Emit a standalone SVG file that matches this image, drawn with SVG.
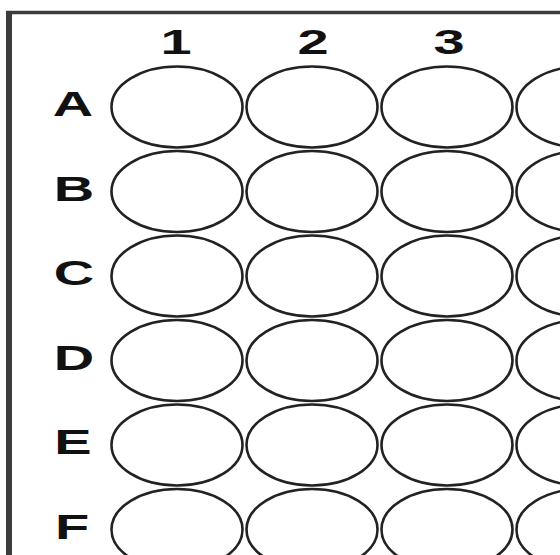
<svg xmlns="http://www.w3.org/2000/svg" width="560" height="555" viewBox="0 0 560 555">
<style>
.frame{stroke:#3c3c3c;fill:none}
.well{fill:none;stroke:#222;stroke-width:2.6}
.lbl{font-family:"Liberation Sans",Arial,sans-serif;font-size:35px;font-weight:bold;fill:#111;text-anchor:middle}
</style>
<rect width="560" height="555" fill="#fff"/>
<g id="frame">
<line class="frame" x1="6" y1="12.5" x2="560" y2="12.5" stroke-width="3.5"/>
<line class="frame" x1="9" y1="11" x2="9" y2="555" stroke-width="6"/>
</g>
<g id="col-labels">
<text class="lbl" transform="translate(176,54) scale(1.6,1)">1</text>
<text class="lbl" transform="translate(313,54) scale(1.6,1)">2</text>
<text class="lbl" transform="translate(449,54) scale(1.6,1)">3</text>
<text class="lbl" transform="translate(580,54) scale(1.6,1)">4</text>
</g>
<g id="row-labels">
<text class="lbl" transform="translate(73,116) scale(1.6,1)">A</text>
<text class="lbl" transform="translate(74,200.5) scale(1.6,1)">B</text>
<text class="lbl" transform="translate(74,285) scale(1.6,1)">C</text>
<text class="lbl" transform="translate(74,369.5) scale(1.6,1)">D</text>
<text class="lbl" transform="translate(73,454) scale(1.6,1)">E</text>
<text class="lbl" transform="translate(72,538.5) scale(1.6,1)">F</text>
</g>
<g id="wells">
<g id="row-A">
<ellipse class="well" cx="177" cy="107" rx="65.5" ry="40.5"/>
<ellipse class="well" cx="312" cy="107" rx="65.5" ry="40.5"/>
<ellipse class="well" cx="447" cy="107" rx="65.5" ry="40.5"/>
<ellipse class="well" cx="582" cy="107" rx="65.5" ry="40.5"/>
</g>
<g id="row-B">
<ellipse class="well" cx="177" cy="191.5" rx="65.5" ry="40.5"/>
<ellipse class="well" cx="312" cy="191.5" rx="65.5" ry="40.5"/>
<ellipse class="well" cx="447" cy="191.5" rx="65.5" ry="40.5"/>
<ellipse class="well" cx="582" cy="191.5" rx="65.5" ry="40.5"/>
</g>
<g id="row-C">
<ellipse class="well" cx="177" cy="276" rx="65.5" ry="40.5"/>
<ellipse class="well" cx="312" cy="276" rx="65.5" ry="40.5"/>
<ellipse class="well" cx="447" cy="276" rx="65.5" ry="40.5"/>
<ellipse class="well" cx="582" cy="276" rx="65.5" ry="40.5"/>
</g>
<g id="row-D">
<ellipse class="well" cx="177" cy="360.5" rx="65.5" ry="40.5"/>
<ellipse class="well" cx="312" cy="360.5" rx="65.5" ry="40.5"/>
<ellipse class="well" cx="447" cy="360.5" rx="65.5" ry="40.5"/>
<ellipse class="well" cx="582" cy="360.5" rx="65.5" ry="40.5"/>
</g>
<g id="row-E">
<ellipse class="well" cx="177" cy="445" rx="65.5" ry="40.5"/>
<ellipse class="well" cx="312" cy="445" rx="65.5" ry="40.5"/>
<ellipse class="well" cx="447" cy="445" rx="65.5" ry="40.5"/>
<ellipse class="well" cx="582" cy="445" rx="65.5" ry="40.5"/>
</g>
<g id="row-F">
<ellipse class="well" cx="177" cy="529.5" rx="65.5" ry="40.5"/>
<ellipse class="well" cx="312" cy="529.5" rx="65.5" ry="40.5"/>
<ellipse class="well" cx="447" cy="529.5" rx="65.5" ry="40.5"/>
<ellipse class="well" cx="582" cy="529.5" rx="65.5" ry="40.5"/>
</g>
</g>
</svg>
